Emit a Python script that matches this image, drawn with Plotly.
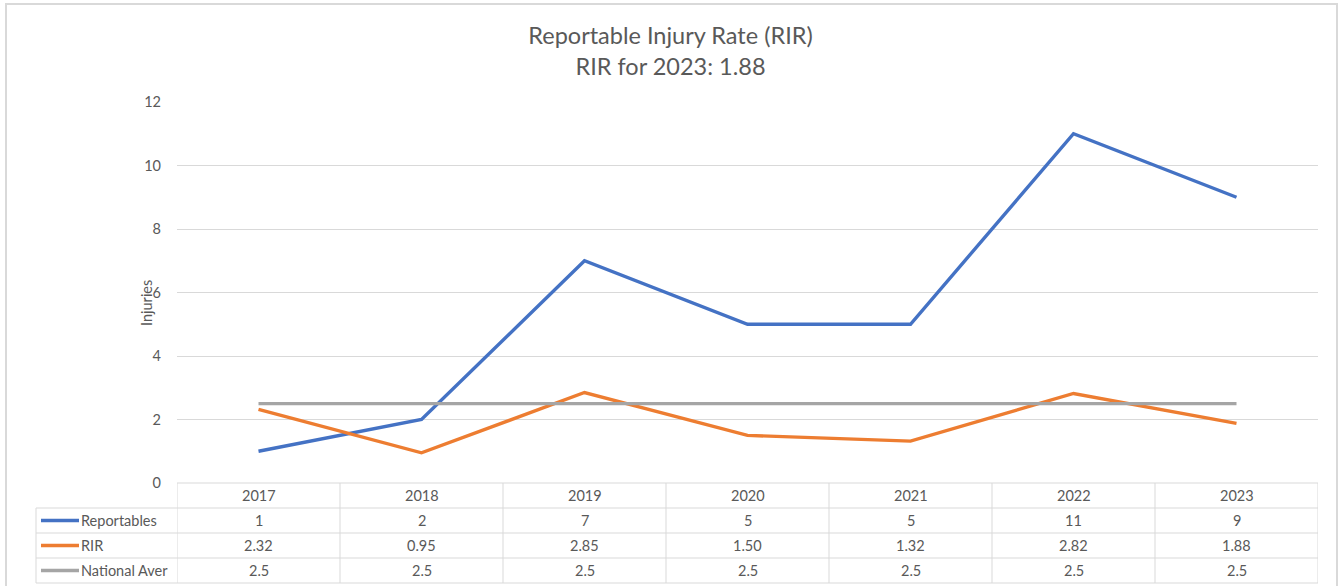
import plotly.graph_objects as go

# data
years = ["2017", "2018", "2019", "2020", "2021", "2022", "2023"]
reportables = [1, 2, 7, 5, 5, 11, 9]
rir = [2.32, 0.95, 2.85, 1.50, 1.32, 2.82, 1.88]
national_avg = [2.5, 2.5, 2.5, 2.5, 2.5, 2.5, 2.5]
series_names = ["Reportables", "RIR", "National Aver"]
series_text = [
    [str(v) for v in reportables],
    ["%.2f" % v for v in rir],
    [str(v) for v in national_avg],
]
colors = ["#4472C4", "#ED7D31", "#A5A5A5"]

W, H = 1341, 586
L, R, T, B = 177, 1318, 102, 483
FONT = "Lato, 'Noto Sans', sans-serif"
GREY = "#595959"
GRID = "#D9D9D9"
FS = 14.5


def px(x):
    return (x - L) / (R - L)


def py(y):
    return (B - y) / (B - T)


fig = go.Figure()
xs = list(range(len(years)))
for name, vals, c in zip(series_names, [reportables, rir, national_avg], colors):
    fig.add_trace(go.Scatter(x=xs, y=vals, name=name, mode="lines",
                             line=dict(color=c, width=3.4), showlegend=False))

shapes = []
annotations = []
row_h = 25
n = len(years)

# chart outer border
shapes.append(dict(type="rect", xref="paper", yref="paper",
                   x0=px(6), x1=px(1337), y0=py(4), y1=py(600),
                   line=dict(color="#D9D9D9", width=2), layer="below"))

# data table lines
for k in range(5):
    y = B + k * row_h
    x0 = px(L) if k == 0 else px(36)
    shapes.append(dict(type="line", xref="paper", yref="paper",
                       x0=x0, x1=1, y0=py(y), y1=py(y),
                       line=dict(color=GRID, width=1)))
shapes.append(dict(type="line", xref="paper", yref="paper",
                   x0=px(36), x1=px(36), y0=py(B + row_h), y1=py(B + 4 * row_h),
                   line=dict(color=GRID, width=1)))
for i in range(n + 1):
    shapes.append(dict(type="line", xref="x", yref="paper",
                       x0=i - 0.5, x1=i - 0.5, y0=py(B), y1=py(B + 4 * row_h),
                       line=dict(color=GRID, width=1)))

# header row: years
for i, yr in enumerate(years):
    annotations.append(dict(x=i, y=py(B + row_h / 2), xref="x", yref="paper",
                            text=yr, showarrow=False, yanchor="middle",
                            font=dict(size=FS, color=GREY, family=FONT)))

# series rows
for r, (name, texts, c) in enumerate(zip(series_names, series_text, colors)):
    yc = py(B + row_h * (r + 1.5))
    shapes.append(dict(type="line", xref="paper", yref="paper",
                       x0=px(41), x1=px(79), y0=yc, y1=yc,
                       line=dict(color=c, width=3.4)))
    annotations.append(dict(x=px(79), y=yc, xref="paper", yref="paper",
                            text=name, showarrow=False, xanchor="left", yanchor="middle",
                            font=dict(size=FS, color=GREY, family=FONT)))
    for i, t in enumerate(texts):
        annotations.append(dict(x=i, y=yc, xref="x", yref="paper",
                                text=t, showarrow=False, yanchor="middle",
                                font=dict(size=FS, color=GREY, family=FONT)))

# y-axis title
annotations.append(dict(x=px(146), y=py(303), xref="paper", yref="paper",
                        text="Injuries", showarrow=False, textangle=-90,
                        xanchor="center", yanchor="middle",
                        font=dict(size=FS, color=GREY, family=FONT)))

fig.update_layout(
    width=W, height=H,
    margin=dict(l=L, r=W - R, t=T, b=H - B),
    paper_bgcolor="white", plot_bgcolor="white",
    title=dict(text="Reportable Injury Rate (RIR)<br>RIR for 2023: 1.88",
               x=0.5, xanchor="center", y=1 - 44 / H, yanchor="top",
               font=dict(size=23.5, color=GREY, family=FONT)),
    xaxis=dict(range=[-0.5, n - 0.5], showgrid=False, showticklabels=False,
               zeroline=False, showline=False, ticks=""),
    yaxis=dict(range=[0, 12], dtick=2, showgrid=True, gridcolor=GRID, gridwidth=1,
               zeroline=False, showline=False, ticks="", ticklabelstandoff=15,
               tickfont=dict(size=FS, color=GREY, family=FONT)),
    shapes=shapes,
    annotations=annotations,
)

fig.write_html("out.html", config={"displayModeBar": False},
               post_script="document.body.style.margin='0';")
